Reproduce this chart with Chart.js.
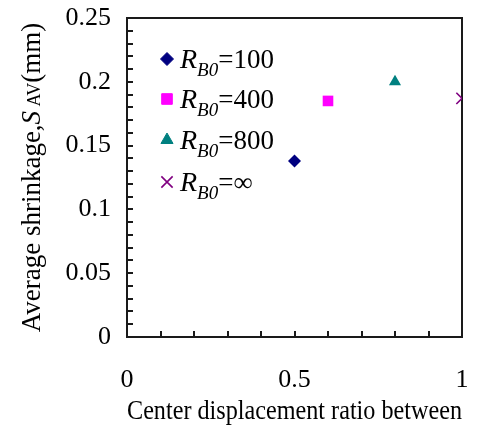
<!DOCTYPE html>
<html>
<head>
<meta charset="utf-8">
<script src="https://cdn.jsdelivr.net/npm/chart.js@4/dist/chart.umd.min.js"></script>
<style>
  html, body { margin: 0; padding: 0; background: #fff; }
</style>
</head>
<body>
<canvas id="shrinkChart" width="479" height="435"></canvas>
<script>
// data
const seriesNames = ['100', '400', '800', '\u221E'];
const xValues = [0.5, 0.6, 0.8, 1.0];
const yValues = [0.138, 0.185, 0.2, 0.187];
const xTicks = [0, 0.5, 1];
const yTicks = [0, 0.05, 0.1, 0.15, 0.2, 0.25];

const colors = ['#000080', '#ff00ff', '#008080', '#800080'];
const markers = ['rectRot', 'rect', 'triangle', 'crossRot'];
const markerSizes = [6.5, 7.5, 7, 8];

const SERIF = '"Liberation Serif", "Times New Roman", serif';

// frame + inward minor ticks
const framePlugin = {
    id: 'frame',
    beforeDatasetsDraw(chart) {
        const { ctx, chartArea: a, scales: { x, y } } = chart;
        const L = Math.round(a.left), R = Math.round(a.right);
        const T = Math.round(a.top), B = Math.round(a.bottom);
        ctx.save();
        ctx.strokeStyle = '#1a1a1a';
        ctx.lineWidth = 2;
        for (let i = 0; i <= 25; i++) {
            const py = Math.round(y.getPixelForValue(i / 100));
            ctx.beginPath();
            ctx.moveTo(L, py);
            ctx.lineTo(L + 6, py);
            ctx.stroke();
        }
        for (let i = 1; i < 10; i++) {
            const px = Math.round(x.getPixelForValue(i / 10));
            ctx.beginPath();
            ctx.moveTo(px, B);
            ctx.lineTo(px, B - 6);
            ctx.stroke();
        }
        ctx.strokeRect(L, T, R - L, B - T);
        ctx.restore();
    }
};

// y title with italic S and small AV, plus the legend with subscripts
const textPlugin = {
    id: 'texts',
    afterDraw(chart) {
        const { ctx, chartArea: a } = chart;
        ctx.save();
        ctx.fillStyle = '#000';
        ctx.textBaseline = 'alphabetic';

        const parts = [
            ['Average shrinkage,', '27px ' + SERIF],
            ['S', 'italic 27px ' + SERIF],
            [' AV', '18px ' + SERIF],
            ['(mm)', '27px ' + SERIF]
        ];
        let total = 0;
        parts.forEach(p => { ctx.font = p[1]; total += ctx.measureText(p[0]).width; });
        ctx.translate(40, (a.top + a.bottom) / 2);
        ctx.rotate(-Math.PI / 2);
        let tx = -total / 2;
        parts.forEach(p => {
            ctx.font = p[1];
            ctx.fillText(p[0], tx, 0);
            tx += ctx.measureText(p[0]).width;
        });
        ctx.setTransform(1, 0, 0, 1, 0, 0);

        const rows = [59, 99, 140, 182];
        seriesNames.forEach((name, i) => {
            const cy = rows[i];
            ctx.fillStyle = colors[i];
            ctx.strokeStyle = colors[i];
            ctx.lineWidth = markers[i] === 'crossRot' ? 1.6 : 1;
            Chart.helpers.drawPoint(ctx, { pointStyle: markers[i], radius: markerSizes[i], rotation: 0, borderWidth: ctx.lineWidth }, 167, cy);
            ctx.fillStyle = '#000';
            let lx = 180;
            const base = cy + 9;
            ctx.font = 'italic 28px ' + SERIF;
            ctx.fillText('R', lx, base);
            lx += ctx.measureText('R').width;
            ctx.font = 'italic 19px ' + SERIF;
            ctx.fillText('B0', lx, base + 8);
            lx += ctx.measureText('B0').width;
            ctx.font = '27px ' + SERIF;
            ctx.fillText('=' + name, lx, base);
        });
        ctx.restore();
    }
};

const ctx = document.getElementById('shrinkChart').getContext('2d');

new Chart(ctx, {
    type: 'scatter',
    data: {
        datasets: seriesNames.map((name, i) => ({
            label: 'RB0=' + name,
            data: [{ x: xValues[i], y: yValues[i] }],
            pointStyle: markers[i],
            pointRadius: markerSizes[i],
            pointHoverRadius: markerSizes[i],
            backgroundColor: colors[i],
            borderColor: colors[i],
            borderWidth: markers[i] === 'crossRot' ? 1.6 : 0
        }))
    },
    options: {
        responsive: false,
        animation: false,
        layout: { padding: { left: 0, right: 17, top: 18, bottom: 0 } },
        plugins: {
            legend: { display: false },
            tooltip: { enabled: false }
        },
        scales: {
            x: {
                type: 'linear',
                min: 0,
                max: 1,
                afterBuildTicks: s => { s.ticks = xTicks.map(v => ({ value: v })); },
                afterFit: s => { s.height = 98; s.paddingLeft = 0; s.paddingRight = 0; },
                grid: { display: false, drawTicks: false },
                border: { display: false },
                ticks: {
                    color: '#000',
                    padding: 28,
                    maxRotation: 0,
                    font: { family: SERIF, size: 26 },
                    callback: v => String(+v.toFixed(2))
                },
                title: {
                    display: true,
                    text: 'Center displacement ratio between',
                    color: '#000',
                    font: { family: SERIF, size: 26.5 },
                    padding: { top: 0, bottom: 7 }
                }
            },
            y: {
                min: 0,
                max: 0.25,
                afterBuildTicks: s => { s.ticks = yTicks.map(v => ({ value: v })); },
                afterFit: s => { s.width = 127; s.paddingTop = 0; s.paddingBottom = 0; },
                grid: { display: false, drawTicks: false },
                border: { display: false },
                ticks: {
                    color: '#000',
                    padding: 16,
                    font: { family: SERIF, size: 26 },
                    callback: v => String(+v.toFixed(2))
                }
            }
        }
    },
    plugins: [framePlugin, textPlugin]
});
</script>
</body>
</html>
